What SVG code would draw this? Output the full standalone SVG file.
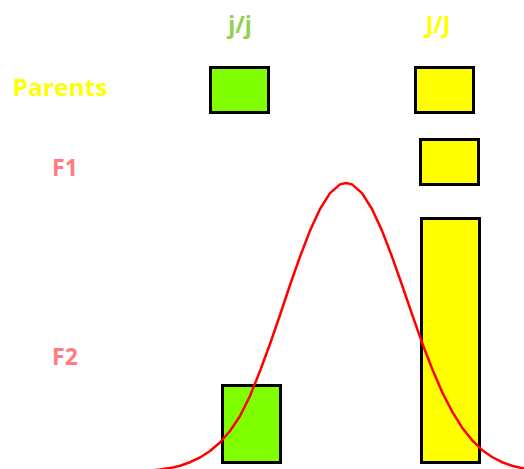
<svg xmlns="http://www.w3.org/2000/svg" width="524" height="469" viewBox="0 0 524 469">
<style>
.t{font-family:"Open Sans","Liberation Sans",Arial,sans-serif;font-weight:bold;font-size:23px;text-anchor:middle}
.box{stroke:#000;stroke-width:3}
.g{fill:#80FF00}
.y{fill:#FFFF00}
.curve{fill:none;stroke:#FF0000;stroke-width:2.5;stroke-linejoin:round;stroke-linecap:round}
</style>
<rect width="524" height="469" fill="#fff"/>
<g id="label-jj"><text class="t" x="240" y="33" fill="#92D050">j/j</text></g>
<g id="label-JJ"><text class="t" x="438" y="33" fill="#FFFF00">J/J</text></g>
<g id="label-parents"><text class="t" x="60" y="96" fill="#FFFF00" textLength="95" lengthAdjust="spacingAndGlyphs">Parents</text></g>
<g id="label-f1"><text class="t" x="65" y="176" fill="#FF7C80">F1</text></g>
<g id="label-f2"><text class="t" x="65" y="365" fill="#FF7C80">F2</text></g>
<g id="parent-jj"><rect class="box g" x="210.5" y="67.5" width="58" height="45"/></g>
<g id="parent-JJ"><rect class="box y" x="415.5" y="67.5" width="58" height="45"/></g>
<g id="f1-JJ"><rect class="box y" x="420.5" y="139.5" width="58" height="45"/></g>
<g id="f2-jj"><rect class="box g" x="222.5" y="385.5" width="58" height="77"/></g>
<g id="f2-JJ"><rect class="box y" x="421.5" y="218.5" width="58" height="244"/></g>
<g id="connectors">
<polyline class="curve" points="150,470.6 160,469.6 170,468.1 180,465.7 190,462.2 200,457.5 210,451 220,442.5 230,431 240,416 250,396 260,371 270,344 280,315 290,285 300,256.7 310,230.6 320,209 330,193.1 340,184.4 346,183 352,184.4 362,193.1 372,209 382,230.6 392,256.7 402,285 412,314.2 422,342.5 432,368.5 442,391.7 452,411.3 462,427.4 472,440.1 482,449.9 492,457 502,462.2 512,465.7 522,468.1 532,469.6"/>
</g>
</svg>
